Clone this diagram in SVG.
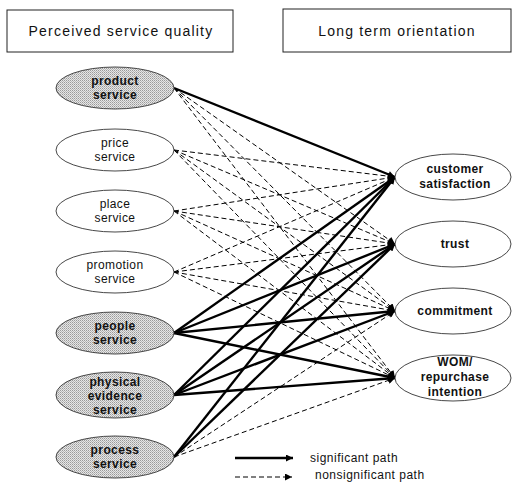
<svg xmlns="http://www.w3.org/2000/svg" width="512" height="483" viewBox="0 0 512 483">
  <style>
    text { font-family: "Liberation Sans", Arial, sans-serif; fill: #111; }
    .hdr { font-size: 14px; letter-spacing: 1.2px; text-anchor: middle; }
    .lbl { font-size: 12px; text-anchor: middle; letter-spacing: 0.4px; }
    .b { font-weight: bold; }
    .box { fill: #fff; stroke: #222; stroke-width: 1; }
    .ell { fill: #fff; stroke: #333; stroke-width: 0.9; }
    .grey { fill: url(#dither); stroke: #333; stroke-width: 0.9; }
    .sig { stroke: #000; stroke-width: 2.4; fill: none; marker-end: url(#ah); }
    .ns { stroke: #000; stroke-width: 1; fill: none; stroke-dasharray: 5 3; marker-end: url(#ah); }
    .leg { font-size: 12px; letter-spacing: 0.5px; }
  </style>
  <defs>
    <pattern id="dither" width="2" height="2" patternUnits="userSpaceOnUse">
      <rect width="2" height="2" fill="#e6e6e6"/>
      <rect width="1" height="1" fill="#9a9a9a"/>
      <rect x="1" y="1" width="1" height="1" fill="#b8b8b8"/>
    </pattern>
    <marker id="ah" viewBox="0 0 10 10" refX="10" refY="5" markerWidth="9" markerHeight="7" markerUnits="userSpaceOnUse" orient="auto">
      <path d="M0,0 L10,5 L0,10 z" fill="#000"/>
    </marker>
  </defs>

  <!-- column headers -->
  <g id="hdr-left">
    <rect class="box" x="7" y="10" width="226" height="42"/>
    <text class="hdr" x="121" y="36">Perceived service quality</text>
  </g>
  <g id="hdr-right">
    <rect class="box" x="283" y="9" width="228" height="43"/>
    <text class="hdr" x="397" y="36">Long term orientation</text>
  </g>

  <!-- paths: left node edge (174, y) to right node edge (395, y) -->
  <g id="connectors">
    <!-- product service -->
    <line class="sig" x1="174" y1="88" x2="395" y2="177"/>
    <line class="ns" x1="174" y1="88" x2="395" y2="244"/>
    <line class="ns" x1="174" y1="88" x2="395" y2="311"/>
    <line class="ns" x1="174" y1="88" x2="395" y2="378"/>
    <!-- price service -->
    <line class="ns" x1="174" y1="150" x2="395" y2="177"/>
    <line class="ns" x1="174" y1="150" x2="395" y2="244"/>
    <line class="ns" x1="174" y1="150" x2="395" y2="311"/>
    <line class="ns" x1="174" y1="150" x2="395" y2="378"/>
    <!-- place service -->
    <line class="ns" x1="174" y1="211" x2="395" y2="177"/>
    <line class="ns" x1="174" y1="211" x2="395" y2="244"/>
    <line class="ns" x1="174" y1="211" x2="395" y2="311"/>
    <line class="ns" x1="174" y1="211" x2="395" y2="378"/>
    <!-- promotion service -->
    <line class="ns" x1="174" y1="272" x2="395" y2="177"/>
    <line class="ns" x1="174" y1="272" x2="395" y2="244"/>
    <line class="ns" x1="174" y1="272" x2="395" y2="311"/>
    <line class="ns" x1="174" y1="272" x2="395" y2="378"/>
    <!-- people service -->
    <line class="sig" x1="174" y1="333" x2="395" y2="177"/>
    <line class="sig" x1="174" y1="333" x2="395" y2="244"/>
    <line class="sig" x1="174" y1="333" x2="395" y2="311"/>
    <line class="sig" x1="174" y1="333" x2="395" y2="378"/>
    <!-- physical evidence service -->
    <line class="sig" x1="174" y1="395" x2="395" y2="177"/>
    <line class="sig" x1="174" y1="395" x2="395" y2="244"/>
    <line class="sig" x1="174" y1="395" x2="395" y2="311"/>
    <line class="sig" x1="174" y1="395" x2="395" y2="378"/>
    <!-- process service -->
    <line class="sig" x1="174" y1="457" x2="395" y2="177"/>
    <line class="sig" x1="174" y1="457" x2="395" y2="244"/>
    <line class="ns" x1="174" y1="457" x2="395" y2="311"/>
    <line class="ns" x1="174" y1="457" x2="395" y2="378"/>
  </g>

  <!-- service quality dimensions -->
  <g id="product">
    <ellipse class="grey" cx="115" cy="88" rx="59" ry="21"/>
    <text class="lbl b" x="115" y="85">product</text>
    <text class="lbl b" x="115" y="99">service</text>
  </g>
  <g id="price">
    <ellipse class="ell" cx="115" cy="150" rx="59" ry="21"/>
    <text class="lbl" x="115" y="147">price</text>
    <text class="lbl" x="115" y="161">service</text>
  </g>
  <g id="place">
    <ellipse class="ell" cx="115" cy="211" rx="59" ry="21"/>
    <text class="lbl" x="115" y="208">place</text>
    <text class="lbl" x="115" y="222">service</text>
  </g>
  <g id="promotion">
    <ellipse class="ell" cx="115" cy="272" rx="59" ry="21"/>
    <text class="lbl" x="115" y="269">promotion</text>
    <text class="lbl" x="115" y="283">service</text>
  </g>
  <g id="people">
    <ellipse class="grey" cx="115" cy="333" rx="59" ry="21"/>
    <text class="lbl b" x="115" y="330">people</text>
    <text class="lbl b" x="115" y="344">service</text>
  </g>
  <g id="physical">
    <ellipse class="grey" cx="115" cy="395" rx="59" ry="23"/>
    <text class="lbl b" x="115" y="386">physical</text>
    <text class="lbl b" x="115" y="400">evidence</text>
    <text class="lbl b" x="115" y="414">service</text>
  </g>
  <g id="process">
    <ellipse class="grey" cx="115" cy="457" rx="59" ry="21"/>
    <text class="lbl b" x="115" y="454">process</text>
    <text class="lbl b" x="115" y="468">service</text>
  </g>

  <!-- long term orientation outcomes -->
  <g id="satisfaction">
    <ellipse class="ell" cx="453" cy="177" rx="58" ry="23"/>
    <text class="lbl b" x="455" y="173">customer</text>
    <text class="lbl b" x="455" y="188">satisfaction</text>
  </g>
  <g id="trust">
    <ellipse class="ell" cx="453" cy="244" rx="58" ry="23"/>
    <text class="lbl b" x="455" y="248">trust</text>
  </g>
  <g id="commitment">
    <ellipse class="ell" cx="453" cy="311" rx="58" ry="23"/>
    <text class="lbl b" x="455" y="315">commitment</text>
  </g>
  <g id="wom">
    <ellipse class="ell" cx="453" cy="378" rx="58" ry="23"/>
    <text class="lbl b" x="455" y="366">WOM/</text>
    <text class="lbl b" x="455" y="381">repurchase</text>
    <text class="lbl b" x="455" y="396">intention</text>
  </g>

  <!-- legend -->
  <g id="legend">
    <line class="sig" x1="235" y1="458" x2="293" y2="458"/>
    <text class="leg" x="310" y="462">significant path</text>
    <line class="ns" x1="235" y1="477" x2="292" y2="477"/>
    <text class="leg" x="315" y="479">nonsignificant path</text>
  </g>
</svg>
